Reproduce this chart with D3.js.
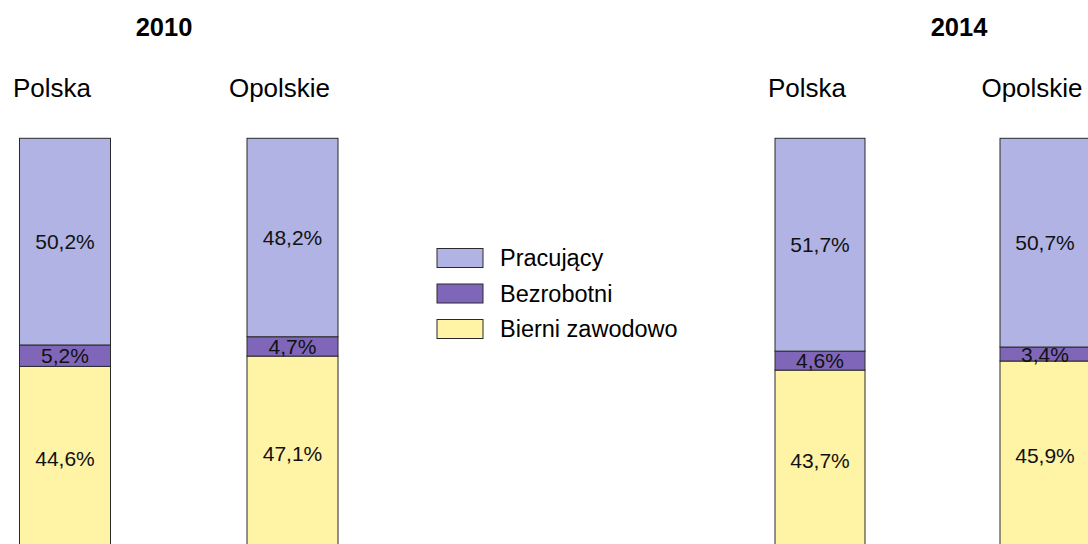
<!DOCTYPE html>
<html>
<head>
<meta charset="utf-8">
<script src="https://cdn.jsdelivr.net/npm/d3@7"></script>
<style>
  body { margin: 0; background: #fff; }
  svg { display: block; font-family: "Liberation Sans", Arial, sans-serif; }
</style>
</head>
<body>
<div id="chart"></div>
<script>
// data
var years = ["2010", "2014"];
var regions = ["Polska", "Opolskie"];
var series = ["Pracujący", "Bezrobotni", "Bierni zawodowo"];
var pracujacy = [50.2, 48.2, 51.7, 50.7];   // 2010 Polska, 2010 Opolskie, 2014 Polska, 2014 Opolskie
var bezrobotni = [5.2, 4.7, 4.6, 3.4];
var bierni = [44.6, 47.1, 43.7, 45.9];
var colors = ["#b0b3e3", "#8066b9", "#fff4a6"];

var width = 1088, height = 544;

var svg = d3.select("#chart")
    .append("svg")
    .attr("width", width)
    .attr("height", height);

// build rows
var rows = [];
years.forEach(function(yr, i) {
    regions.forEach(function(rg, j) {
        var k = i * regions.length + j;
        rows.push({
            year: yr,
            region: rg,
            "Pracujący": pracujacy[k],
            "Bezrobotni": bezrobotni[k],
            "Bierni zawodowo": bierni[k]
        });
    });
});

// one band scale per year panel
var panelRange = {
    "2010": [19.5, 338],
    "2014": [775, 1090]
};
var xScales = {};
years.forEach(function(yr) {
    xScales[yr] = d3.scaleBand()
        .domain(regions)
        .range(panelRange[yr])
        .paddingInner(0.6)
        .paddingOuter(0);
});

var y = d3.scaleLinear()
    .domain([0, 100])
    .range([550, 138.3]);

var color = d3.scaleOrdinal().domain(series).range(colors);

// stack from top: Pracujący on top, Bierni at bottom
var stack = d3.stack().keys(series.slice().reverse());
var stacked = stack(rows);

var layers = svg.selectAll("g.layer")
    .data(stacked)
    .enter()
    .append("g")
    .attr("class", "layer")
    .attr("fill", d => color(d.key));

layers.selectAll("rect")
    .data(d => d)
    .enter()
    .append("rect")
    .attr("x", d => xScales[d.data.year](d.data.region))
    .attr("width", d => xScales[d.data.year].bandwidth())
    .attr("y", d => y(d[1]))
    .attr("height", d => y(d[0]) - y(d[1]))
    .attr("stroke", "#2a2a2a")
    .attr("stroke-width", 1);

// value labels
layers.selectAll("text")
    .data(d => d)
    .enter()
    .append("text")
    .attr("x", d => xScales[d.data.year](d.data.region) + xScales[d.data.year].bandwidth() / 2)
    .attr("y", d => (y(d[0]) + y(d[1])) / 2 + 7.5)
    .attr("text-anchor", "middle")
    .attr("font-size", "21px")
    .attr("fill", "#111")
    .text(d => (d[1] - d[0]).toFixed(1).replace(".", ",") + "%");

// region labels above bars
svg.selectAll("text.region")
    .data(rows)
    .enter()
    .append("text")
    .attr("class", "region")
    .attr("x", d => xScales[d.year](d.region) + xScales[d.year].bandwidth() / 2 - 13)
    .attr("y", 96.5)
    .attr("text-anchor", "middle")
    .attr("font-size", "26px")
    .attr("fill", "#000")
    .text(d => d.region);

// year titles
var yearX = { "2010": 164, "2014": 959 };
svg.selectAll("text.year")
    .data(years)
    .enter()
    .append("text")
    .attr("class", "year")
    .attr("x", d => yearX[d])
    .attr("y", 36)
    .attr("text-anchor", "middle")
    .attr("font-size", "25.5px")
    .attr("font-weight", "bold")
    .attr("fill", "#000")
    .text(d => d);

// legend
var legend = svg.append("g")
    .attr("transform", "translate(437, 248.5)");

var item = legend.selectAll("g")
    .data(series)
    .enter()
    .append("g")
    .attr("transform", (d, i) => `translate(0, ${i * 35.5})`);

item.append("rect")
    .attr("width", 46)
    .attr("height", 19)
    .attr("fill", d => color(d))
    .attr("stroke", "#2a2a2a")
    .attr("stroke-width", 1);

item.append("text")
    .attr("x", 63)
    .attr("y", 17.5)
    .attr("font-size", "23.5px")
    .attr("fill", "#000")
    .text(d => d);
</script>
</body>
</html>
